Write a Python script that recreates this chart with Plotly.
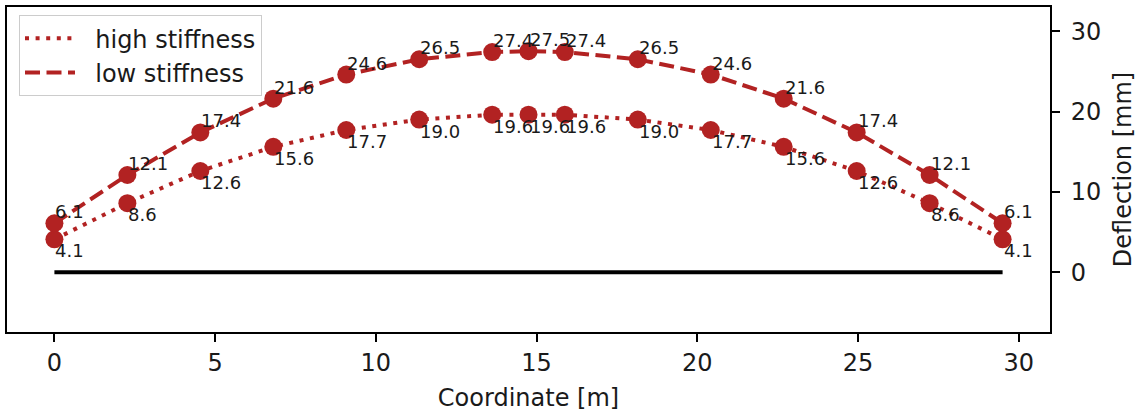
import plotly.graph_objects as go

# Beam node coordinates [m] and mid-span deflections [mm]
coordinate = [0.0, 2.27, 4.54, 6.81, 9.08, 11.35, 13.62, 14.75,
              15.88, 18.15, 20.42, 22.69, 24.96, 27.23, 29.5]
high_stiffness = [4.1, 8.6, 12.6, 15.6, 17.7, 19.0, 19.6, 19.6,
                  19.6, 19.0, 17.7, 15.6, 12.6, 8.6, 4.1]
low_stiffness = [6.1, 12.1, 17.4, 21.6, 24.6, 26.5, 27.4, 27.5,
                 27.4, 26.5, 24.6, 21.6, 17.4, 12.1, 6.1]
x_ticks = [0, 5, 10, 15, 20, 25, 30]
y_ticks = [0, 10, 20, 30]

RED = "#b22222"
FONT = "DejaVu Sans"
GAP = "\u00a0\u00a0"  # spacing between legend line sample and its label

fig = go.Figure()

# undeformed beam axis
fig.add_trace(go.Scatter(
    x=coordinate, y=[0.0] * len(coordinate), mode="lines",
    line=dict(color="black", width=4), showlegend=False, hoverinfo="skip"))

series = [
    ("high stiffness", high_stiffness, "4px,6.6px"),
    ("low stiffness", low_stiffness, "15px,6.5px"),
]
for name, values, dash in series:
    fig.add_trace(go.Scatter(
        x=coordinate, y=values, mode="lines", name=GAP + name,
        line=dict(color=RED, width=4, dash=dash)))
    fig.add_trace(go.Scatter(
        x=coordinate, y=values, mode="markers", showlegend=False,
        marker=dict(color=RED, size=18, line=dict(width=0))))

# value labels: above the point for the soft beam, below for the stiff one
for values, anchor in ((low_stiffness, "bottom"), (high_stiffness, "top")):
    for xv, yv in zip(coordinate, values):
        fig.add_annotation(
            x=xv, y=yv, text=f"{yv:.1f}", showarrow=False,
            xanchor="left", yanchor=anchor, borderpad=0,
            font=dict(family=FONT, size=18, color="#1a1a1a"))

axis_common = dict(
    showline=True, linecolor="black", linewidth=2, mirror=True,
    ticks="outside", ticklen=8, tickwidth=2, tickcolor="black",
    showgrid=False, zeroline=False,
    tickfont=dict(family=FONT, size=24, color="#1a1a1a"),
)

fig.update_layout(
    width=1143, height=418,
    margin=dict(l=6, r=93, t=5, b=86),
    paper_bgcolor="white", plot_bgcolor="white",
    font=dict(family=FONT, size=24, color="#1a1a1a"),
    xaxis=dict(
        range=[-1.475, 30.975], tickvals=x_ticks,
        title=dict(text="Coordinate [m]", standoff=13,
                   font=dict(family=FONT, size=24, color="#1a1a1a")),
        **axis_common),
    yaxis=dict(
        range=[-7.43, 33.0], tickvals=y_ticks, side="right",
        ticklabelstandoff=6,
        title=dict(text="Deflection [mm]", standoff=14,
                   font=dict(family=FONT, size=24, color="#1a1a1a")),
        **axis_common),
    legend=dict(
        x=0.0115, y=0.975, xanchor="left", yanchor="top",
        bgcolor="rgba(255,255,255,0.8)", bordercolor="#cccccc", borderwidth=1,
        font=dict(family=FONT, size=24, color="#1a1a1a"),
        itemwidth=50, tracegroupgap=0),
    showlegend=True,
)

fig.write_html("out.html")
